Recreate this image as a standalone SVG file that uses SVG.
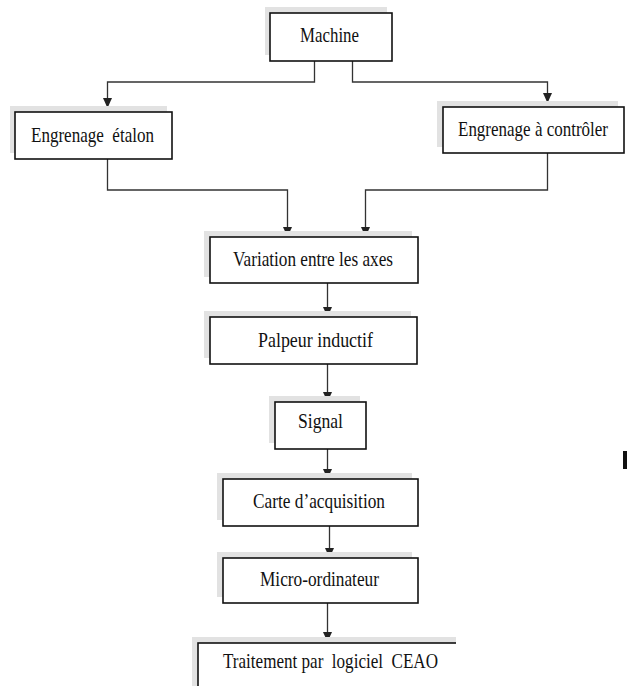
<svg xmlns="http://www.w3.org/2000/svg" width="628" height="686" viewBox="0 0 628 686">
  <style>
    .shadow { fill: #e2e2e2; }
    .box { fill: #ffffff; stroke: #111111; stroke-width: 1.6; }
    .label { font-family: 'Liberation Serif', 'Times New Roman', serif; font-size: 21px; fill: #111111; white-space: pre; }
    .link { fill: none; stroke: #333333; stroke-width: 1.3; marker-end: url(#arrow); }
  </style>
  <defs>
    <marker id="arrow" markerUnits="userSpaceOnUse" markerWidth="14" markerHeight="14" refX="10" refY="0" viewBox="0 -7 14 14" orient="auto">
      <path d="M0,-4.5 L10,0 L0,4.5 Z" fill="#222222"/>
    </marker>
    <clipPath id="pageEdge">
      <rect x="0" y="0" width="456" height="686"/>
    </clipPath>
  </defs>

  <rect width="628" height="686" fill="#ffffff"/>

  <!-- connectors -->
  <g id="connectors">
    <path class="link" d="M314.5,61 V82 H107.5 V108"/>
    <path class="link" d="M352.5,61 V82 H547.5 V103"/>
    <path class="link" d="M107.5,159 V190 H287.5 V237"/>
    <path class="link" d="M547.5,153 V190 H365.5 V237"/>
    <path class="link" d="M327.5,283 V317"/>
    <path class="link" d="M327.5,364 V402"/>
    <path class="link" d="M327.5,449 V479"/>
    <path class="link" d="M329.5,526 V558"/>
    <path class="link" d="M327.5,603 V642"/>
  </g>

  <g id="machine">
    <rect class="shadow" x="265" y="7" width="122" height="48"/>
    <rect class="box" x="270" y="13" width="122" height="48"/>
    <text class="label" x="300" y="42" textLength="59" lengthAdjust="spacingAndGlyphs">Machine</text>
  </g>

  <g id="engrenage-etalon">
    <rect class="shadow" x="10" y="106" width="157" height="47"/>
    <rect class="box" x="15" y="112" width="157" height="47"/>
    <text class="label" x="31" y="142" textLength="123" lengthAdjust="spacingAndGlyphs">Engrenage  étalon</text>
  </g>

  <g id="engrenage-a-controler">
    <rect class="shadow" x="437" y="101" width="181" height="46"/>
    <rect class="box" x="443" y="107" width="181" height="46"/>
    <text class="label" x="458" y="136" textLength="150" lengthAdjust="spacingAndGlyphs">Engrenage à contrôler</text>
  </g>

  <g id="variation">
    <rect class="shadow" x="204" y="231" width="208" height="46"/>
    <rect class="box" x="210" y="237" width="208" height="46"/>
    <text class="label" x="233" y="266" textLength="160" lengthAdjust="spacingAndGlyphs">Variation entre les axes</text>
  </g>

  <g id="palpeur">
    <rect class="shadow" x="204" y="311" width="207" height="47"/>
    <rect class="box" x="210" y="317" width="207" height="47"/>
    <text class="label" x="258" y="347" textLength="115" lengthAdjust="spacingAndGlyphs">Palpeur inductif</text>
  </g>

  <g id="signal">
    <rect class="shadow" x="269" y="396" width="91" height="47"/>
    <rect class="box" x="275" y="402" width="91" height="47"/>
    <text class="label" x="298" y="428" textLength="45" lengthAdjust="spacingAndGlyphs">Signal</text>
  </g>

  <g id="carte">
    <rect class="shadow" x="217" y="473" width="195" height="47"/>
    <rect class="box" x="223" y="479" width="195" height="47"/>
    <text class="label" x="253" y="508" textLength="132" lengthAdjust="spacingAndGlyphs">Carte d’acquisition</text>
  </g>

  <g id="micro">
    <rect class="shadow" x="217" y="552" width="195" height="45"/>
    <rect class="box" x="223" y="558" width="195" height="45"/>
    <text class="label" x="260" y="586" textLength="119" lengthAdjust="spacingAndGlyphs">Micro-ordinateur</text>
  </g>

  <g id="traitement">
    <g clip-path="url(#pageEdge)">
      <rect class="shadow" x="192" y="637" width="264" height="60"/>
      <rect class="box" x="198" y="643" width="270" height="60"/>
    </g>
    <text class="label" x="223" y="668" textLength="215" lengthAdjust="spacingAndGlyphs">Traitement par  logiciel  CEAO</text>
  </g>

  <!-- stray mark at the right margin -->
  <rect x="623" y="451" width="4" height="18" fill="#111111"/>
</svg>
